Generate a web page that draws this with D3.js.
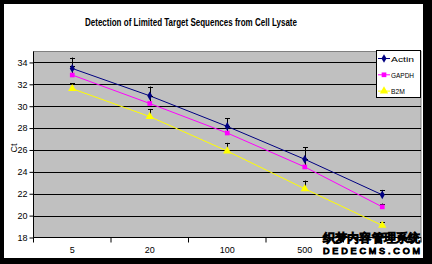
<!DOCTYPE html>
<html>
<head>
<meta charset="utf-8">
<script src="https://cdn.jsdelivr.net/npm/d3@7"></script>
<style>
  html, body { margin: 0; padding: 0; background: #000; }
  svg text { font-family: Arial, "Liberation Sans", sans-serif; fill: #000; }
</style>
</head>
<body>
<div id="chart"></div>
<script>
  let categories = ["5", "20", "100", "500", "1000"];
  let seriesNames = ["Actin", "GAPDH", "B2M"];
  let actin = [33.45, 30.95, 28.15, 25.15, 21.9];
  let gapdh = [32.85, 30.25, 27.55, 24.45, 20.8];
  let b2m = [31.6, 29.05, 25.9, 22.45, 19.1];
  let actinErr = [1.0, 0.85, 0.75, 1.1, 0.45];
  let gapdhErr = [0.8, 0.7, 0.6, 0.7, 0.3];
  let b2mErr = [0.5, 0.7, 0.75, 0.75, 0.3];
  let yTicks = [18, 20, 22, 24, 26, 28, 30, 32, 34];

  let colors = ["#000080", "#ff00ff", "#ffff00"];
  let shapes = [d3.symbolDiamond, d3.symbolSquare, d3.symbolTriangle];

  let series = [
    { name: seriesNames[0], values: actin, err: actinErr },
    { name: seriesNames[1], values: gapdh, err: gapdhErr },
    { name: seriesNames[2], values: b2m, err: b2mErr }
  ];

  let width = 432, height = 264;
  let plot = { left: 33.5, top: 51.5, right: 421, bottom: 237.5 };

  let svg = d3.select("#chart")
    .append("svg")
    .attr("width", width)
    .attr("height", height);

  // frame
  svg.append("rect")
    .attr("width", width)
    .attr("height", height)
    .attr("fill", "#000");

  svg.append("rect")
    .attr("x", 4)
    .attr("y", 4)
    .attr("width", 419)
    .attr("height", 254)
    .attr("fill", "#fff");

  let x = d3.scaleBand()
    .domain(categories)
    .range([plot.left, plot.right])
    .padding(0);

  let y = d3.scaleLinear()
    .domain([18, 35])
    .range([plot.bottom, plot.top]);

  let cx = d => x(d) + x.bandwidth() / 2;

// plot area ===============================================
  svg.append("rect")
    .attr("x", plot.left)
    .attr("y", plot.top)
    .attr("width", plot.right - plot.left)
    .attr("height", plot.bottom - plot.top)
    .attr("fill", "#c0c0c0")
    .attr("stroke", "#808080")
    .attr("stroke-width", 1);

  svg.append("g")
    .selectAll("line")
    .data(yTicks.slice(1))
    .enter()
    .append("line")
    .attr("x1", plot.left)
    .attr("x2", plot.right)
    .attr("y1", d => Math.round(y(d)) + 0.5)
    .attr("y2", d => Math.round(y(d)) + 0.5)
    .attr("stroke", "#000")
    .attr("stroke-width", 1);

// axes ===============================================
  let yAxis = d3.axisLeft(y)
    .tickValues(yTicks)
    .tickSize(4)
    .tickPadding(2);

  svg.append("g")
    .attr("transform", "translate(" + plot.left + ",0)")
    .call(yAxis)
    .call(g => g.select(".domain").attr("d", "M0," + plot.top + "V" + plot.bottom))
    .call(g => g.selectAll("text").attr("font-size", "9px").attr("font-family", "Arial, sans-serif"));

  // last category label sits under the watermark in the original, so it is not drawn
  let xAxis = d3.axisBottom(x)
    .tickSize(0)
    .tickPadding(9)
    .tickFormat((d, i) => i == categories.length - 1 ? "" : d);

  let xg = svg.append("g")
    .attr("transform", "translate(0," + plot.bottom + ")")
    .call(xAxis)
    .call(g => g.select(".domain").attr("d", "M" + plot.left + ",0H" + plot.right))
    .call(g => g.selectAll("text").attr("font-size", "9px").attr("font-family", "Arial, sans-serif"));

  // category boundary ticks
  xg.selectAll(".sep")
    .data(categories.concat([null]))
    .enter()
    .append("line")
    .attr("class", "sep")
    .attr("x1", (d, i) => plot.left + i * x.bandwidth())
    .attr("x2", (d, i) => plot.left + i * x.bandwidth())
    .attr("y1", 0)
    .attr("y2", 5)
    .attr("stroke", "#000");

// series ===============================================
  let line = d3.line()
    .x((d, i) => cx(categories[i]))
    .y(d => y(d));

  series.forEach(function(s, k) {
    svg.append("path")
      .attr("d", line(s.values))
      .attr("fill", "none")
      .attr("stroke", colors[k])
      .attr("stroke-width", 1);
  });

  // error bars (plus direction)
  series.forEach(function(s, k) {
    let g = svg.append("g");
    g.selectAll("line.bar")
      .data(s.values)
      .enter()
      .append("line")
      .attr("x1", (d, i) => Math.round(cx(categories[i])) + 0.5)
      .attr("x2", (d, i) => Math.round(cx(categories[i])) + 0.5)
      .attr("y1", d => y(d))
      .attr("y2", (d, i) => y(d + s.err[i]))
      .attr("stroke", "#000");
    g.selectAll("line.cap")
      .data(s.values)
      .enter()
      .append("line")
      .attr("x1", (d, i) => Math.round(cx(categories[i])) - 2)
      .attr("x2", (d, i) => Math.round(cx(categories[i])) + 3)
      .attr("y1", (d, i) => Math.round(y(d + s.err[i])) + 0.5)
      .attr("y2", (d, i) => Math.round(y(d + s.err[i])) + 0.5)
      .attr("stroke", "#000");
  });

  series.forEach(function(s, k) {
    svg.append("g")
      .selectAll("path")
      .data(s.values)
      .enter()
      .append("path")
      .attr("transform", (d, i) => "translate(" + cx(categories[i]) + "," + y(d) + ")")
      .attr("d", d3.symbol().type(shapes[k]).size(k == 2 ? 30 : 22))
      .attr("fill", colors[k]);
  });

// title / labels ===============================================
  svg.append("text")
    .attr("x", 85)
    .attr("y", 26)
    .attr("font-size", "10px")
    .attr("font-weight", "bold")
    .attr("textLength", 212)
    .attr("lengthAdjust", "spacingAndGlyphs")
    .text("Detection of Limited Target Sequences from Cell Lysate");

  svg.append("text")
    .attr("transform", "translate(17,148) rotate(-90)")
    .attr("text-anchor", "middle")
    .attr("font-size", "9px")
    .text("Ct");

// legend ===============================================
  let legend = svg.append("g");

  legend.append("rect")
    .attr("x", 376.5)
    .attr("y", 50.5)
    .attr("width", 44)
    .attr("height", 47)
    .attr("fill", "#fff")
    .attr("stroke", "#000");

  let item = legend.selectAll("g.item")
    .data(series)
    .enter()
    .append("g")
    .attr("transform", (d, i) => "translate(0," + (58.5 + i * 16.3) + ")");

  item.append("line")
    .attr("x1", 378)
    .attr("x2", 390)
    .attr("y1", 0)
    .attr("y2", 0)
    .attr("stroke", (d, i) => colors[i]);

  item.append("path")
    .attr("transform", "translate(384,0)")
    .attr("d", (d, i) => d3.symbol().type(shapes[i]).size(i == 2 ? 30 : 22)())
    .attr("fill", (d, i) => colors[i]);

  item.append("text")
    .attr("x", 391)
    .attr("y", 3)
    .attr("font-size", "8px")
    .attr("textLength", d => d.name.length * 4.6)
    .attr("lengthAdjust", "spacingAndGlyphs")
    .text(d => d.name);

// watermark ===============================================
  svg.append("rect")
    .attr("x", 322)
    .attr("y", 244)
    .attr("width", 100)
    .attr("height", 11)
    .attr("fill", "#fff");

  svg.append("text")
    .attr("x", 323)
    .attr("y", 241.5)
    .attr("font-size", "12px")
    .attr("font-family", "Noto Sans CJK SC")
    .attr("textLength", 97)
    .attr("lengthAdjust", "spacingAndGlyphs")
    .attr("fill", "#fff")
    .attr("stroke", "#000")
    .attr("stroke-width", 1.2)
    .attr("paint-order", "stroke")
    .text("织梦内容管理系统");

  svg.append("text")
    .attr("x", 323)
    .attr("y", 253.5)
    .attr("font-size", "9px")
    .attr("font-family", "DejaVu Sans Mono, monospace")
    .attr("textLength", 97)
    .attr("lengthAdjust", "spacing")
    .attr("fill", "#fff")
    .attr("stroke", "#000")
    .attr("stroke-width", 1)
    .attr("paint-order", "stroke")
    .text("DEDECMS.COM");
</script>
</body>
</html>
